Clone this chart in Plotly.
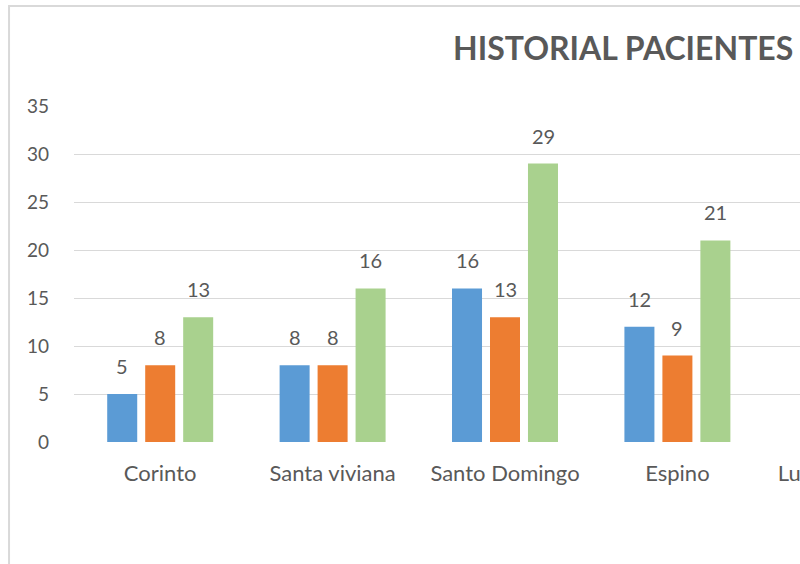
import plotly.graph_objects as go

categories = ["Corinto", "Santa viviana", "Santo Domingo", "Espino", "Luisa Fernanda"]
serie_1 = [5, 8, 16, 12, None]
serie_2 = [8, 8, 13, 9, None]
serie_3 = [13, 16, 29, 21, None]
series_names = ["Serie 1", "Serie 2", "Serie 3"]
colors = ["#5B9BD5", "#ED7D31", "#A9D18E"]
y_ticks = [0, 5, 10, 15, 20, 25, 30, 35]
title_text = "HISTORIAL PACIENTES"

W, H = 1240, 700
L, T = 74, 106
PW = 172.5 * len(categories)
PH = 336
R = W - L - PW
B = H - T - PH

font_family = "Lato, 'Open Sans', sans-serif"
text_color = "#595959"

fig = go.Figure()
for name, vals, col in zip(series_names, [serie_1, serie_2, serie_3], colors):
    fig.add_trace(go.Bar(x=categories, y=vals, name=name, marker=dict(color=col, line=dict(width=0))))

offsets = [-38, 0, 38]
annotations = []
for off, vals in zip(offsets, [serie_1, serie_2, serie_3]):
    for c, v in zip(categories, vals):
        if v is None:
            continue
        annotations.append(dict(x=c, y=v, text=str(v), showarrow=False, xshift=off,
                                yanchor="bottom", yshift=14,
                                font=dict(family=font_family, size=20, color=text_color)))

def px_x(p):
    return (p - L) / PW

def px_y(p):
    return (T + PH - p) / PH

fig.update_layout(
    width=W, height=H,
    margin=dict(l=L, r=R, t=T, b=B, pad=0),
    paper_bgcolor="white", plot_bgcolor="white",
    barmode="group", bargap=0.339, bargroupgap=0.21,
    showlegend=False,
    title=dict(text=title_text, xref="container", yref="container", x=453 / W, xanchor="left",
               y=1 - 49 / H, yanchor="middle",
               font=dict(family=font_family, size=32, color=text_color, weight="bold")),
    annotations=annotations,
    shapes=[dict(type="rect", xref="paper", yref="paper", x0=px_x(9), x1=px_x(1234),
                 y0=px_y(690), y1=px_y(6), line=dict(color="#D9D9D9", width=2), layer="below")],
    font=dict(family=font_family, color=text_color),
)
fig.update_xaxes(showgrid=False, showline=False, zeroline=False, ticks="",
                 tickfont=dict(family=font_family, size=22, color=text_color), ticklabelstandoff=16)
fig.update_yaxes(range=[0, 35], tickvals=y_ticks, showgrid=True, gridcolor="#D9D9D9", gridwidth=1.3,
                 zeroline=False, showline=False, ticks="",
                 tickfont=dict(family=font_family, size=19, color=text_color), ticklabelstandoff=24)

fig.write_html("out.html", post_script="document.body.style.margin='0';document.body.style.overflow='hidden';")
